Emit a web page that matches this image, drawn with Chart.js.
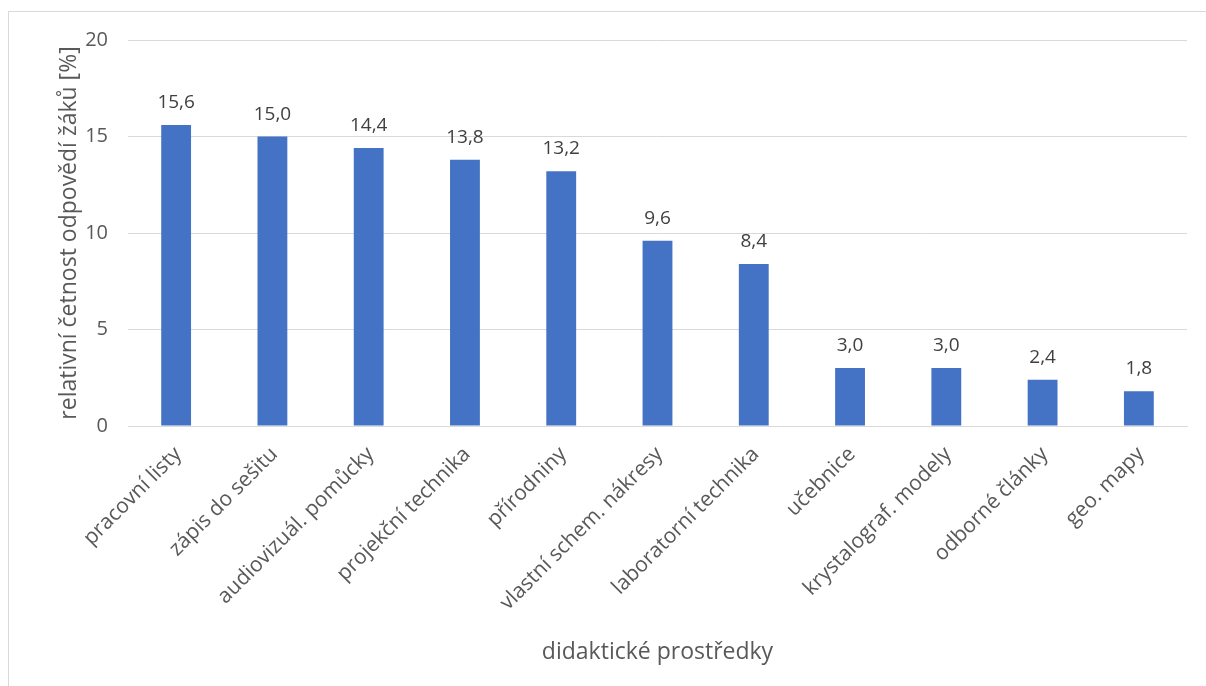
<!DOCTYPE html>
<html>
<head>
<meta charset="utf-8">
<script src="https://cdn.jsdelivr.net/npm/chart.js@4"></script>
<style>
    body { margin: 0; background: #fff; overflow: hidden; }
    #frame { position: absolute; left: 8px; top: 11px; width: 1300px; height: 800px; border: 1px solid #d9d9d9; }
    #wrap { position: absolute; left: 0; top: 0; width: 1206px; height: 686px; }
</style>
</head>
<body>
<div id="frame"></div>
<div id="wrap"><canvas id="main_chart"></canvas></div>
<script>
const categories = [
    'pracovní listy',
    'zápis do sešitu',
    'audiovizuál. pomůcky',
    'projekční technika',
    'přírodniny',
    'vlastní schem. nákresy',
    'laboratorní technika',
    'učebnice',
    'krystalograf. modely',
    'odborné články',
    'geo. mapy'
];
const shares = [15.6, 15.0, 14.4, 13.8, 13.2, 9.6, 8.4, 3.0, 3.0, 2.4, 1.8];
const yTicks = [0, 5, 10, 15, 20];

const fontFamily = '"Open Sans", sans-serif';

// draws the value above each bar
const valueLabels = {
    id: 'valueLabels',
    afterDatasetsDraw(chart) {
        let ctx = chart.ctx;
        let meta = chart.getDatasetMeta(0);
        ctx.save();
        ctx.font = '19px ' + fontFamily;
        ctx.fillStyle = '#404040';
        ctx.textAlign = 'center';
        ctx.textBaseline = 'alphabetic';
        meta.data.forEach((bar, i) => {
            let text = shares[i].toFixed(1).replace('.', ',');
            ctx.fillText(text, bar.x, bar.y - 17);
        });
        ctx.restore();
    }
};

document.addEventListener('DOMContentLoaded', function() {
    new Chart(document.getElementById('main_chart'), {
        type: 'bar',
        data: {
            labels: categories,
            datasets: [{
                label: 'relativní četnost',
                data: shares,
                backgroundColor: '#4472C4',
                barPercentage: 0.62,
                categoryPercentage: 0.5
            }]
        },
        options: {
            responsive: true,
            maintainAspectRatio: false,
            animation: false,
            layout: {
                padding: { left: 45, right: 19, top: 40, bottom: 20 }
            },
            plugins: {
                legend: { display: false },
                tooltip: { enabled: false }
            },
            scales: {
                x: {
                    grid: { display: false, drawTicks: false },
                    border: { display: true, color: '#d9d9d9', width: 1 },
                    ticks: {
                        color: '#595959',
                        font: { family: fontFamily, size: 21 },
                        maxRotation: 45,
                        minRotation: 45,
                        padding: 16,
                        labelOffset: 2,
                        autoSkip: false
                    },
                    title: {
                        display: true,
                        text: 'didaktické prostředky',
                        color: '#595959',
                        font: { family: fontFamily, size: 23 },
                        padding: { top: 0, bottom: 0 }
                    },
                    afterFit: (scale) => {
                        scale.height = 240;
                    }
                },
                y: {
                    min: 0,
                    max: 20,
                    afterBuildTicks: (scale) => { scale.ticks = yTicks.map(v => ({ value: v })); },
                    grid: { color: '#d9d9d9', drawTicks: false },
                    border: { display: false },
                    ticks: {
                        color: '#595959',
                        font: { family: fontFamily, size: 20 },
                        padding: 20
                    },
                    title: {
                        display: true,
                        text: 'relativní četnost odpovědí žáků [%]',
                        color: '#595959',
                        font: { family: fontFamily, size: 23 },
                        padding: { top: 11, bottom: 0 }
                    },
                    afterFit: (scale) => { scale.width = 83; }
                }
            }
        },
        plugins: [valueLabels]
    });
});
</script>
</body>
</html>
